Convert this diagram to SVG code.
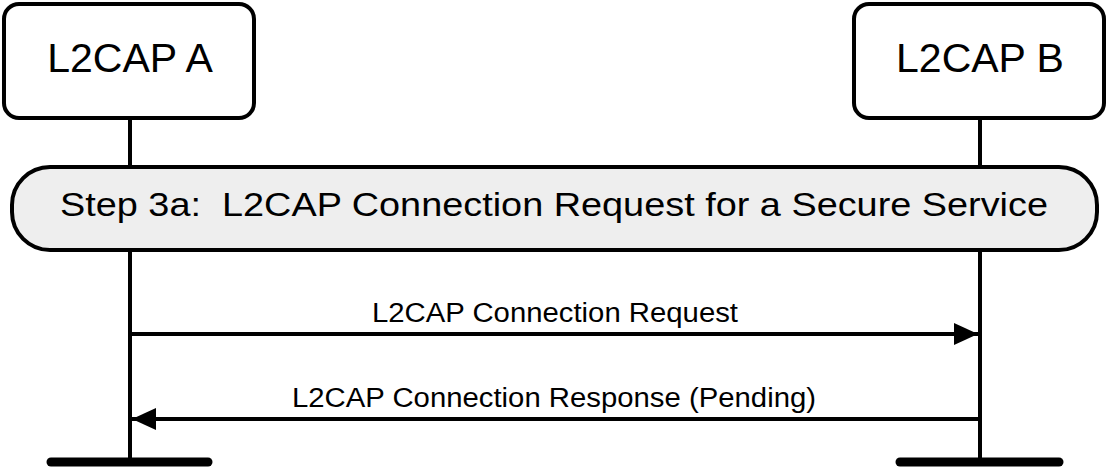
<svg xmlns="http://www.w3.org/2000/svg" width="1108" height="467" viewBox="0 0 1108 467">
<style>
.box{fill:#fff;stroke:#000;stroke-width:4}
.bar{fill:#eeeeee;stroke:#000;stroke-width:4}
.life{stroke:#000;stroke-width:4;fill:none}
.foot{stroke:#000;stroke-width:9;stroke-linecap:round}
.msg{stroke:#000;stroke-width:4;fill:none}
.t{font-family:"Liberation Sans",Arial,sans-serif;fill:#000}
.title{font-size:41px;text-anchor:middle}
.step{font-size:33px}
.lbl{font-size:27px}
</style>
<defs>
<marker id="ah" markerUnits="userSpaceOnUse" markerWidth="24" markerHeight="22" refX="24" refY="11" orient="auto">
<path d="M0,0 L24,11 L0,22 Z" fill="#000"/>
</marker>
</defs>
<g id="lifelines">
<line class="life" x1="130" y1="118" x2="130" y2="460"/>
<line class="life" x1="980" y1="118" x2="980" y2="460"/>
<line class="foot" x1="51" y1="462" x2="208" y2="462"/>
<line class="foot" x1="900" y1="462" x2="1059" y2="462"/>
</g>
<g id="nodeA">
<rect class="box" x="4" y="4" width="250" height="114" rx="15"/>
<text class="t title" x="130" y="72">L2CAP A</text>
</g>
<g id="nodeB">
<rect class="box" x="854" y="4" width="250" height="114" rx="15"/>
<text class="t title" x="980" y="72">L2CAP B</text>
</g>
<g id="step">
<rect class="bar" x="12" y="167" width="1085" height="83" rx="38" ry="38"/>
<text class="t step" x="60" y="216" textLength="988" lengthAdjust="spacingAndGlyphs" xml:space="preserve">Step 3a:  L2CAP Connection Request for a Secure Service</text>
</g>
<g id="connectors">
<line class="msg" x1="130" y1="334" x2="978" y2="334" marker-end="url(#ah)"/>
<text class="t lbl" x="372" y="322" textLength="366" lengthAdjust="spacingAndGlyphs">L2CAP Connection Request</text>
<line class="msg" x1="980" y1="419" x2="132" y2="419" marker-end="url(#ah)"/>
<text class="t lbl" x="292" y="407" textLength="524" lengthAdjust="spacingAndGlyphs">L2CAP Connection Response (Pending)</text>
</g>
</svg>
